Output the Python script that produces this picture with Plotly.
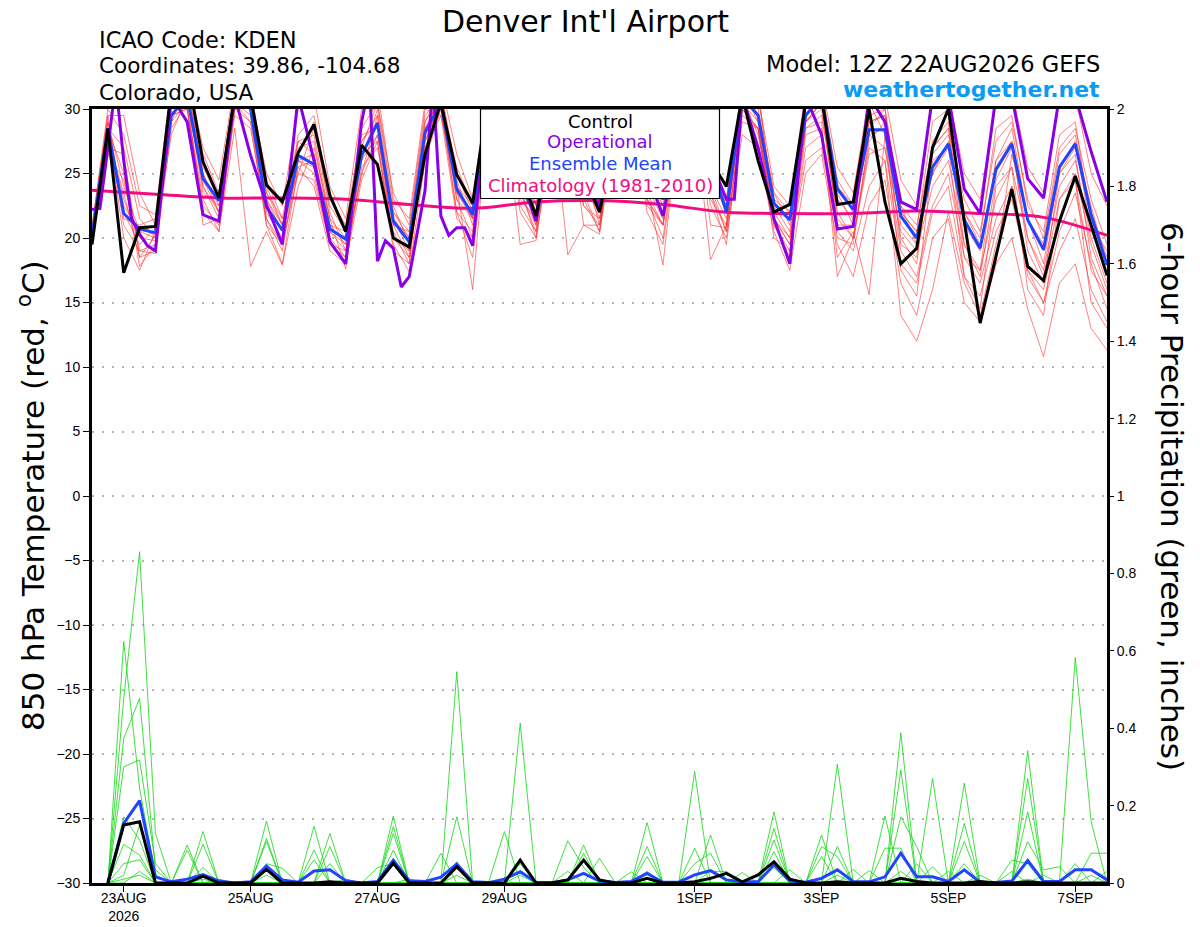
import plotly.graph_objects as go
import pandas as pd

# ---------------- data ----------------
start = "2026-08-22 12:00"
n_steps = 65  # 6-hourly, 22AUG 12Z .. 7SEP 12Z

control_temp = [19.5,
    28.5, 17.3, 20.8, 20.9,  31.5, 33.0, 25.9, 23.1,  31.0, 31.0, 24.1, 22.8,  26.6, 28.8, 23.3, 20.5,
    27.2, 25.7, 20.0, 19.3,  26.5, 30.5, 24.9, 22.7,  31.0, 31.0, 25.0, 21.7,  28.0, 30.0, 25.0, 22.0,
    28.0, 30.0, 25.0, 23.5,  28.0, 30.0, 26.0, 24.0,  31.0, 26.0, 22.0, 22.6,  30.5, 31.0, 22.6, 22.8,
    30.0, 22.8, 18.0, 19.2,  27.0, 30.0, 21.3, 13.4,  18.7, 23.8, 17.8, 16.7,  21.3, 24.8, 21.0, 17.1]

mean_temp = [20.2,
    28.5, 21.9, 20.7, 20.4,  29.5, 31.0, 24.6, 22.9,  31.0, 30.0, 22.4, 20.6,  26.4, 25.7, 20.7, 19.9,
    26.4, 28.9, 21.3, 19.7,  28.2, 30.5, 23.8, 21.8,  31.0, 31.0, 24.0, 21.8,  28.0, 30.0, 25.0, 22.4,
    28.0, 30.0, 25.0, 23.0,  28.0, 30.0, 26.0, 22.0,  31.0, 29.5, 22.7, 21.4,  29.5, 31.0, 23.8, 22.2,
    28.4, 28.4, 21.7, 20.0,  25.5, 27.3, 21.4, 19.2,  25.3, 27.3, 21.4, 19.1,  25.5, 27.3, 21.8, 17.9]

op_hours = [0, 3, 6, 9, 12, 15, 18, 21, 24, 30, 36, 42, 48, 54, 60, 66, 72, 78, 84, 90, 96, 102,
            105, 108, 111, 114, 117, 120, 126, 129, 132, 135, 138, 141, 144,
            150, 156, 162, 168, 174, 180, 186, 192, 198, 204, 210, 216, 222, 228, 234, 240,
            243, 246, 252, 258, 264, 270, 276, 282, 288, 294, 300, 306, 312, 318, 324, 330,
            336, 342, 348, 354, 360, 366, 372, 378, 384]
op_temp = [22.2, 22.3, 27.0, 32.0, 26.0, 21.5, 20.3, 19.4, 19.0, 31.0, 29.0, 21.8, 21.3, 31.0, 26.4, 22.6, 19.5, 31.0, 26.0, 19.7, 18.0, 29.0,
           32.0, 18.2, 19.8, 19.2, 16.2, 17.0, 23.7, 32.0, 21.7, 20.2, 20.8, 20.8, 19.4,
           31.0, 31.0, 25.0, 21.3, 28.0, 30.0, 25.0, 22.5, 28.0, 30.0, 25.0, 21.7, 28.0, 30.0, 26.0, 23.0,
           23.0, 31.0, 27.0, 21.5, 18.0, 31.0, 28.0, 20.7, 20.9, 31.0, 29.0, 22.8, 22.2, 31.0, 31.0, 23.8,
           21.9, 31.0, 31.0, 24.6, 23.1, 31.0, 31.0, 26.7, 22.8]

clim_hours = [0, 24, 48, 72, 96, 120, 144, 168, 192, 216, 240, 264, 288, 312, 336, 360, 384]
clim_temp = [23.7, 23.4, 23.1, 23.1, 23.0, 22.6, 22.3, 22.8, 22.9, 22.6, 22.0, 21.9, 21.9, 22.1, 21.9, 21.6, 20.2]

m01 = [20.5, 28.0,23.0,20.0,19.8, 30.5,31.5,24.0,22.0, 31.0,30.5,22.0,20.0, 27.0,27.5,21.0,19.5, 27.5,29.5,21.5,19.0, 28.5,31.0,24.5,21.0, 30.5,31.5,25.0,21.5, 29.0,30.5,24.0,22.0, 29.5,30.5,24.5,22.5, 29.0,31.0,25.5,22.5, 31.0,30.0,23.5,21.0, 30.5,31.5,23.0,21.5, 29.0,29.5,21.0,19.5, 26.5,28.0,21.0,19.0, 26.0,28.5,21.5,19.5, 26.5,28.0,22.0,18.5]
m02 = [19.8, 27.0,26.5,18.5,20.2, 29.0,32.0,26.5,23.5, 30.0,31.5,24.5,21.5, 25.0,28.5,22.5,20.5, 26.0,30.0,22.0,20.0, 27.0,30.5,25.5,22.5, 31.0,30.5,23.5,20.5, 30.0,31.0,25.5,21.0, 28.5,31.0,23.0,21.0, 30.5,30.0,24.0,21.5, 30.0,31.5,22.0,20.0, 29.0,30.5,24.0,22.5, 30.5,28.0,20.0,18.0, 27.5,29.0,19.5,17.0, 24.5,27.0,20.0,17.5, 24.0,26.0,20.0,16.5]
m03 = [21.0, 29.5,21.5,21.0,21.5, 31.5,30.0,22.5,21.0, 29.5,28.5,21.5,19.0, 26.0,26.5,20.0,18.5, 25.0,28.0,20.5,18.0, 29.0,31.5,23.0,20.0, 29.5,32.0,26.0,22.0, 28.0,31.5,23.0,20.5, 30.0,29.5,22.0,19.5, 28.0,30.5,23.5,20.5, 29.0,28.5,21.0,19.0, 26.0,27.0,20.5,19.0, 24.0,26.0,18.0,16.5, 22.0,24.0,17.0,15.5, 20.5,23.0,17.5,15.0, 19.0,21.5,16.0,13.5]
m04 = [20.0, 26.5,24.5,19.0,18.8, 28.5,30.5,25.0,22.5, 30.5,29.0,23.0,20.5, 28.0,29.5,23.0,21.0, 28.5,30.5,23.5,21.0, 30.0,29.5,24.0,21.5, 31.0,31.0,24.5,21.0, 29.5,29.0,22.5,21.5, 28.0,30.0,24.0,21.5, 29.5,29.5,22.5,20.0, 28.0,27.0,20.5,17.5, 25.0,26.5,19.5,17.0, 22.5,24.5,16.5,14.0, 20.0,21.5,15.0,13.5, 18.0,20.0,14.5,10.8, 16.5,18.0,13.0,11.3]
m05 = [20.8, 30.0,28.0,22.5,21.8, 32.0,32.5,27.0,24.5, 32.0,31.0,25.0,22.5, 30.0,31.0,24.0,21.5, 30.0,31.5,23.0,21.5, 30.5,32.0,26.5,23.0, 32.0,32.0,26.5,22.5, 30.5,32.0,26.0,22.5, 31.0,31.5,25.5,23.0, 31.0,32.0,26.5,23.0, 32.0,31.0,24.0,22.5, 31.5,32.0,25.5,23.5, 31.0,31.0,24.5,22.5, 30.5,31.0,25.0,23.0, 30.5,31.5,25.5,23.5, 31.0,31.0,25.0,22.5]
m06 = [19.5, 28.5,25.0,17.8,19.5, 29.5,30.0,23.0,20.5, 28.5,17.8,20.5,17.9, 24.0,27.0,21.5,17.6, 26.5,29.0,19.5,17.4, 26.0,30.0,22.0,18.5, 29.0,30.0,19.5,19.8, 28.5,30.0,21.0,20.3, 29.0,30.5,23.0,20.0, 28.5,30.5,21.0,20.8, 30.5,29.5,21.5,19.5, 28.5,29.5,22.0,20.0, 27.5,29.0,19.5,18.5, 27.0,28.5,18.5,17.5, 26.0,27.5,19.0,16.5, 25.0,26.5,18.5,15.5]
m07 = [20.3, 27.5,22.0,19.5,20.8, 30.0,31.0,25.5,23.0, 30.5,31.0,23.5,21.0, 26.5,29.0,22.0,19.0, 28.0,28.5,21.0,18.5, 27.5,30.5,24.0,16.0, 30.0,31.0,24.0,20.0, 30.0,30.5,24.5,21.5, 29.0,31.5,24.0,17.9, 29.0,30.0,23.0,21.0, 30.5,31.0,22.5,20.5, 29.5,31.0,23.5,21.0, 28.5,30.0,22.0,20.5, 29.0,30.0,22.0,20.0, 28.5,29.5,22.5,20.5, 28.0,29.0,21.0,19.0]
m08 = [19.9, 29.0,24.0,20.5,21.0, 31.0,31.0,24.0,21.5, 31.5,30.0,22.5,20.5, 27.5,28.0,21.5,20.0, 27.0,30.5,22.5,19.5, 28.0,31.5,25.0,22.0, 30.0,30.5,22.5,20.5, 30.5,18.7,21.0,21.0, 29.0,30.0,22.5,21.0, 30.0,29.5,18.3,21.0, 31.5,29.0,21.0,18.5, 28.0,28.5,18.5,20.5, 15.6,28.0,17.5,15.5, 26.0,27.0,17.0,14.5, 24.0,25.5,16.0,14.0, 23.0,24.5,15.0,13.0]
m09 = [20.6, 28.5,27.0,21.5,20.0, 31.5,32.0,25.0,22.0, 30.0,30.5,24.0,21.0, 25.5,26.0,20.5,19.0, 25.0,29.5,21.0,20.5, 29.5,31.0,23.5,22.0, 31.5,31.5,25.5,22.5, 28.5,30.0,26.0,23.0, 28.0,29.0,24.5,22.0, 27.5,30.0,25.0,22.0, 30.0,28.5,22.0,21.5, 29.0,30.0,21.5,20.0, 27.0,26.0,14.0,12.0, 16.0,22.0,16.5,14.0, 19.5,24.0,17.0,15.0, 20.5,23.5,18.0,14.5]
m10 = [20.1, 28.0,22.5,20.5,20.0, 28.0,31.0,23.5,22.5, 31.0,30.0,21.5,19.5, 26.0,25.0,19.5,19.0, 26.5,27.5,20.0,19.0, 28.5,30.0,23.0,21.5, 30.5,31.0,23.0,21.5, 27.5,30.5,25.0,22.5, 27.5,29.5,25.5,22.5, 27.5,30.5,25.0,22.0, 31.0,28.0,21.5,20.0, 29.0,30.5,21.0,21.0, 29.5,30.0,22.5,19.5, 25.0,27.5,21.0,13.5, 18.0,26.5,21.5,18.0, 25.5,27.5,20.5,18.0]
m11 = [20.4, 29.0,21.0,19.0,19.5, 29.0,30.5,24.5,22.0, 30.5,31.0,23.0,21.0, 26.0,25.5,20.5,19.5, 26.0,28.0,21.5,20.0, 28.0,30.0,23.5,21.5, 30.5,30.5,24.0,22.0, 28.0,29.5,25.0,22.5, 28.5,29.5,25.0,23.0, 28.5,29.5,26.0,22.5, 30.5,29.0,23.0,22.0, 29.0,30.5,24.0,22.0, 28.0,28.5,22.0,20.5, 25.0,27.0,22.0,19.5, 25.5,27.5,21.5,19.0, 25.0,27.0,22.5,18.0]
m12 = [19.7, 28.5,20.0,17.5,20.5, 30.0,31.0,21.0,21.5, 30.5,29.5,21.0,18.0, 25.5,24.0,19.0,18.0, 24.5,27.5,19.0,18.0, 27.5,30.5,22.0,20.5, 31.0,31.5,23.5,21.0, 28.5,29.5,23.5,20.5, 28.0,29.5,23.5,21.0, 27.5,29.0,23.5,19.5, 30.0,28.5,21.5,19.5, 28.5,29.0,17.0,20.0, 26.5,27.0,19.0,17.0, 22.5,25.0,18.5,16.5, 21.5,24.0,17.5,16.0, 21.5,24.5,17.5,15.5]
m13 = [20.2, 29.5,29.5,23.5,21.0, 30.5,31.5,26.0,23.0, 31.5,30.5,23.5,21.5, 27.5,26.5,21.0,20.5, 27.5,29.0,22.0,20.5, 29.0,31.0,24.0,22.5, 31.5,30.5,24.5,22.0, 29.0,30.0,25.5,23.0, 28.5,30.5,26.0,23.5, 28.0,30.5,26.5,23.0, 31.5,29.5,23.5,22.0, 30.0,31.5,24.5,22.5, 29.0,29.5,22.5,21.0, 27.0,28.5,23.0,20.5, 27.5,29.0,23.0,20.0, 27.0,28.5,23.0,19.5]
m14 = [20.0, 27.5,23.5,18.5,19.0, 29.5,30.0,22.0,20.5, 30.0,29.0,21.0,19.5, 25.0,24.5,19.5,18.5, 25.5,27.0,20.0,18.5, 27.0,29.5,21.5,20.0, 30.0,30.0,22.0,20.0, 27.5,29.0,22.5,21.0, 27.5,29.0,23.0,21.0, 27.5,29.0,24.0,20.5, 29.5,28.5,20.0,19.0, 27.0,28.0,20.0,19.5, 28.0,27.0,20.5,19.0, 24.0,26.0,19.5,17.5, 23.0,25.5,20.0,17.0, 23.0,25.0,19.5,16.0]
temp_members = [m01, m02, m03, m04, m05, m06, m07, m08, m09, m10, m11, m12, m13, m14]

# 6-hour precipitation (inches), valid 22AUG 18Z .. 7SEP 12Z (64 values)
control_pcp = [0, 0.150, 0.158, 0, 0, 0, 0.018, 0,   0, 0, 0.035, 0, 0, 0, 0.003, 0,
               0, 0, 0.051, 0, 0, 0, 0.042, 0,        0, 0, 0.059, 0, 0, 0.008, 0.059, 0.008,
               0, 0, 0.012, 0, 0, 0.003, 0.012, 0.025, 0.003, 0.021, 0.055, 0.010, 0, 0, 0.003, 0,
               0, 0, 0.012, 0.004, 0, 0, 0, 0.004,    0, 0, 0.003, 0, 0, 0, 0, 0]
mean_pcp = [0, 0.154, 0.213, 0.016, 0.003, 0.010, 0.022, 0.005,  0, 0.003, 0.044, 0.008, 0.002, 0.031, 0.034, 0.006,
            0, 0.004, 0.059, 0.006, 0.004, 0.015, 0.049, 0.003,  0.001, 0.010, 0.029, 0.002, 0.001, 0.008, 0.025, 0.005,
            0.001, 0.004, 0.025, 0.002, 0.002, 0.021, 0.032, 0.008,  0.003, 0.003, 0.047, 0.005, 0.002, 0.012, 0.034, 0.004,
            0.003, 0.016, 0.077, 0.016, 0.016, 0.004, 0.034, 0.002,  0.001, 0.005, 0.058, 0.004, 0.004, 0.034, 0.034, 0.008]
p01 = [0, 0.624, 0.245, 0.02, 0, 0, 0.133, 0,  0, 0, 0.16, 0, 0, 0.146, 0, 0,  0, 0, 0.173, 0, 0, 0, 0.546, 0,  0, 0, 0.02, 0, 0, 0, 0.098, 0,
       0, 0, 0.156, 0, 0, 0.288, 0, 0,  0, 0, 0.184, 0, 0, 0, 0.307, 0,  0, 0, 0.388, 0, 0, 0, 0.258, 0,  0, 0, 0.342, 0, 0, 0.05, 0, 0]
p02 = [0, 0.477, 0.856, 0.128, 0, 0.085, 0, 0,  0, 0, 0.115, 0, 0, 0, 0.128, 0,  0, 0, 0.146, 0, 0, 0, 0.171, 0,  0, 0, 0.413, 0, 0, 0.03, 0, 0,
       0, 0, 0.094, 0, 0, 0, 0.124, 0,  0, 0, 0.141, 0, 0, 0.124, 0, 0,  0, 0, 0.292, 0, 0.27, 0, 0, 0,  0, 0, 0.27, 0, 0, 0.583, 0.158, 0]
p03 = [0, 0.374, 0.477, 0.034, 0, 0, 0.10, 0,  0, 0, 0.107, 0, 0, 0.085, 0, 0,  0, 0, 0.128, 0, 0, 0, 0.055, 0,  0, 0.133, 0, 0, 0, 0, 0.077, 0,
       0, 0, 0.068, 0, 0, 0.09, 0, 0,  0, 0, 0.111, 0, 0, 0, 0.094, 0,  0, 0.173, 0, 0, 0, 0, 0.154, 0,  0, 0, 0.184, 0, 0, 0, 0.077, 0.077]
p04 = [0, 0.30, 0.318, 0.05, 0, 0.098, 0, 0,  0, 0, 0, 0, 0, 0, 0.094, 0,  0, 0, 0.085, 0, 0, 0, 0.04, 0,  0, 0, 0, 0, 0, 0.109, 0.04, 0,
       0, 0, 0.03, 0, 0, 0.05, 0.077, 0,  0, 0, 0.081, 0, 0, 0.094, 0.068, 0,  0, 0, 0.171, 0.094, 0, 0, 0.107, 0,  0, 0, 0.107, 0.034, 0.042, 0, 0, 0]
p05 = [0, 0.171, 0.111, 0, 0, 0, 0.04, 0,  0, 0, 0.05, 0.038, 0, 0.06, 0, 0,  0, 0.04, 0.05, 0, 0, 0.077, 0, 0,  0, 0, 0.05, 0, 0, 0, 0, 0.064,
       0, 0, 0, 0, 0, 0, 0.03, 0.03,  0, 0, 0.04, 0, 0, 0.068, 0, 0.035,  0, 0.09, 0.09, 0, 0.042, 0, 0.05, 0,  0, 0.059, 0.05, 0, 0, 0, 0, 0.03]
p06 = [0, 0.10, 0.072, 0, 0, 0, 0, 0,  0, 0, 0, 0, 0, 0, 0.05, 0,  0, 0, 0, 0, 0, 0, 0, 0,  0, 0, 0, 0, 0, 0, 0, 0,
       0, 0.029, 0, 0, 0, 0, 0, 0,  0.027, 0, 0, 0.034, 0, 0, 0, 0,  0.032, 0, 0, 0.05, 0, 0.03, 0, 0.02,  0, 0.03, 0, 0.02, 0, 0, 0.02, 0]
p07 = [0, 0.05, 0.06, 0, 0, 0, 0, 0.01,  0, 0, 0, 0, 0, 0, 0, 0.01,  0, 0, 0, 0.01, 0, 0, 0, 0,  0, 0, 0, 0, 0, 0, 0, 0,
       0, 0, 0, 0, 0, 0, 0, 0,  0, 0, 0, 0, 0, 0, 0.02, 0,  0, 0, 0.03, 0, 0, 0, 0, 0,  0, 0, 0, 0, 0, 0, 0, 0]
p08 = [0, 0.02, 0.15, 0.02, 0, 0, 0, 0,  0, 0, 0.02, 0, 0, 0, 0, 0,  0, 0, 0, 0, 0, 0, 0.02, 0,  0, 0, 0, 0, 0, 0, 0, 0,
       0, 0, 0, 0, 0, 0, 0, 0,  0, 0, 0, 0, 0, 0, 0, 0,  0, 0, 0, 0, 0, 0, 0, 0,  0, 0, 0, 0, 0, 0, 0, 0]
p09 = [0, 0, 0.03, 0, 0, 0, 0.01, 0,  0, 0, 0, 0, 0, 0, 0, 0,  0, 0, 0, 0, 0, 0, 0, 0,  0, 0, 0, 0, 0, 0, 0, 0,
       0, 0, 0.01, 0, 0, 0, 0, 0,  0, 0, 0, 0, 0, 0, 0, 0,  0, 0, 0, 0, 0, 0, 0, 0,  0, 0, 0, 0, 0, 0, 0, 0]
p10 = [0, 0.01, 0.02, 0, 0, 0, 0, 0,  0, 0, 0, 0, 0, 0, 0, 0,  0, 0, 0, 0, 0, 0, 0, 0,  0, 0, 0, 0, 0, 0, 0, 0,
       0, 0, 0, 0, 0, 0, 0, 0,  0, 0, 0, 0, 0, 0, 0, 0,  0, 0, 0, 0, 0, 0, 0, 0,  0, 0, 0.01, 0, 0, 0, 0, 0]
pcp_members = [p01, p02, p03, p04, p05, p06, p07, p08, p09, p10]

tick_dates = ["2026-08-23", "2026-08-25", "2026-08-27", "2026-08-29",
              "2026-09-01", "2026-09-03", "2026-09-05", "2026-09-07"]
tick_labels = ["23AUG<br>2026", "25AUG", "27AUG", "29AUG", "1SEP", "3SEP", "5SEP", "7SEP"]

legend_names = ["Control", "Operational", "Ensemble Mean", "Climatology (1981-2010)"]

# ---------------- figure ----------------
t0 = pd.Timestamp(start)
t = pd.date_range(start, periods=n_steps, freq="6h")
tp = t[1:]
t_op = t0 + pd.to_timedelta(op_hours, unit="h")
t_clim = t0 + pd.to_timedelta(clim_hours, unit="h")

RED = "rgba(255,45,45,0.75)"
GREEN = "rgba(20,215,20,0.9)"
PURPLE = "#8A00E6"
BLUE = "#2045FF"
PINK = "#F20C82"
FONT = "Liberation Sans, Arial, Helvetica, sans-serif"
WIDE = "DejaVu Sans, Liberation Sans, sans-serif"
legend_colors = ["black", PURPLE, BLUE, PINK]

fig = go.Figure()
for m in temp_members:
    fig.add_trace(go.Scatter(x=t, y=m, mode="lines", line=dict(color=RED, width=0.8),
                             hoverinfo="skip", showlegend=False))
for p in pcp_members:
    fig.add_trace(go.Scatter(x=tp, y=p, mode="lines", yaxis="y2", line=dict(color=GREEN, width=0.9),
                             hoverinfo="skip", showlegend=False))
fig.add_trace(go.Scatter(x=t_clim, y=clim_temp, mode="lines", line=dict(color=PINK, width=3),
                         line_shape="spline", showlegend=False))
fig.add_trace(go.Scatter(x=tp, y=mean_pcp, mode="lines", yaxis="y2", line=dict(color=BLUE, width=3),
                         showlegend=False))
fig.add_trace(go.Scatter(x=tp, y=control_pcp, mode="lines", yaxis="y2", line=dict(color="black", width=3),
                         showlegend=False))
fig.add_trace(go.Scatter(x=t, y=mean_temp, mode="lines", line=dict(color=BLUE, width=3), showlegend=False))
fig.add_trace(go.Scatter(x=t_op, y=op_temp, mode="lines", line=dict(color=PURPLE, width=3), showlegend=False))
fig.add_trace(go.Scatter(x=t, y=control_temp, mode="lines", line=dict(color="black", width=3), showlegend=False))

# the page's body margin is removed (post_script), so figure pixels == window pixels
W, H = 1200, 927
L, T = 92, 109
R = W - 1107
B = H - 883
pw, ph = W - L - R, H - T - B


def px(xp):
    return (xp - L) / pw


def py(yp):
    return (H - B - yp) / ph


ann = []
ann.append(dict(text="Denver Int'l Airport", x=px(585), y=py(21), xanchor="center", yanchor="middle",
                font=dict(size=30, color="black", family=WIDE)))
for txt, yy, sz in [("ICAO Code: KDEN", 40, 22.5), ("Coordinates: 39.86, -104.68", 66, 21.5),
                    ("Colorado, USA", 92, 21.5)]:
    ann.append(dict(text=txt, x=px(97), y=py(yy), xanchor="left", yanchor="middle",
                    font=dict(size=sz, color="black", family=WIDE)))
ann.append(dict(text="Model: 12Z 22AUG2026 GEFS", x=px(1102), y=py(64), xanchor="right", yanchor="middle",
                font=dict(size=22.5, color="black", family=WIDE)))
ann.append(dict(text="<b>weathertogether.net</b>", x=px(1102), y=py(89), xanchor="right", yanchor="middle",
                font=dict(size=22, color="#0A9BF5", family=WIDE)))
ann.append(dict(text="850 hPa Temperature (red, <sup>o</sup>C)", x=px(31), y=py(496), textangle=-90,
                xanchor="center", yanchor="middle", font=dict(size=31, color="black", family=WIDE)))
ann.append(dict(text="6-hour Precipitation (green, inches)", x=px(1172), y=py(496), textangle=90,
                xanchor="center", yanchor="middle", font=dict(size=31, color="black", family=WIDE)))
for name, col, yy in zip(legend_names, legend_colors, [121, 142, 163, 185]):
    ann.append(dict(text=name, x=px(600), y=py(yy), xanchor="center", yanchor="middle",
                    font=dict(size=18, color=col, family=WIDE)))
for a in ann:
    a.setdefault("xref", "paper")
    a.setdefault("yref", "paper")
    a.setdefault("showarrow", False)

legend_box = dict(type="rect", xref="paper", yref="paper", layer="above",
                  x0=px(480.5), x1=px(719.5), y0=py(198.5), y1=1.0,
                  fillcolor="white", line=dict(color="black", width=1.2))

fig.update_layout(
    width=W, height=H,
    margin=dict(l=L, r=R, t=T, b=B),
    paper_bgcolor="white", plot_bgcolor="white",
    font=dict(family=FONT, color="black", size=14),
    showlegend=False,
    annotations=ann,
    shapes=[legend_box],
    xaxis=dict(type="date", range=[t[0], t[-1]], tickvals=tick_dates, ticktext=tick_labels,
               ticks="outside", ticklen=6, tickwidth=1, tickcolor="black", showgrid=False,
               showline=True, linewidth=3, linecolor="black", mirror=True, automargin=False,
               ticklabelstandoff=-6, tickfont=dict(size=14), zeroline=False),
    yaxis=dict(range=[-30, 30], dtick=5, tick0=-30, ticks="outside", ticklen=6, tickcolor="black",
               showline=True, linewidth=3, linecolor="black", mirror=True, automargin=False,
               showgrid=True, gridcolor="#B4B4B4", griddash="2px,8px", gridwidth=2,
               zeroline=False, tickfont=dict(size=14)),
    yaxis2=dict(range=[0, 2], dtick=0.2, tick0=0, overlaying="y", side="right", automargin=False,
                ticks="outside", ticklen=6, tickcolor="black", showgrid=False, zeroline=False,
                showline=False, tickfont=dict(size=14)),
)

fig.write_html("out.html", config={"displayModeBar": False},
               post_script="document.body.style.margin='0px';document.body.style.overflow='hidden';")
